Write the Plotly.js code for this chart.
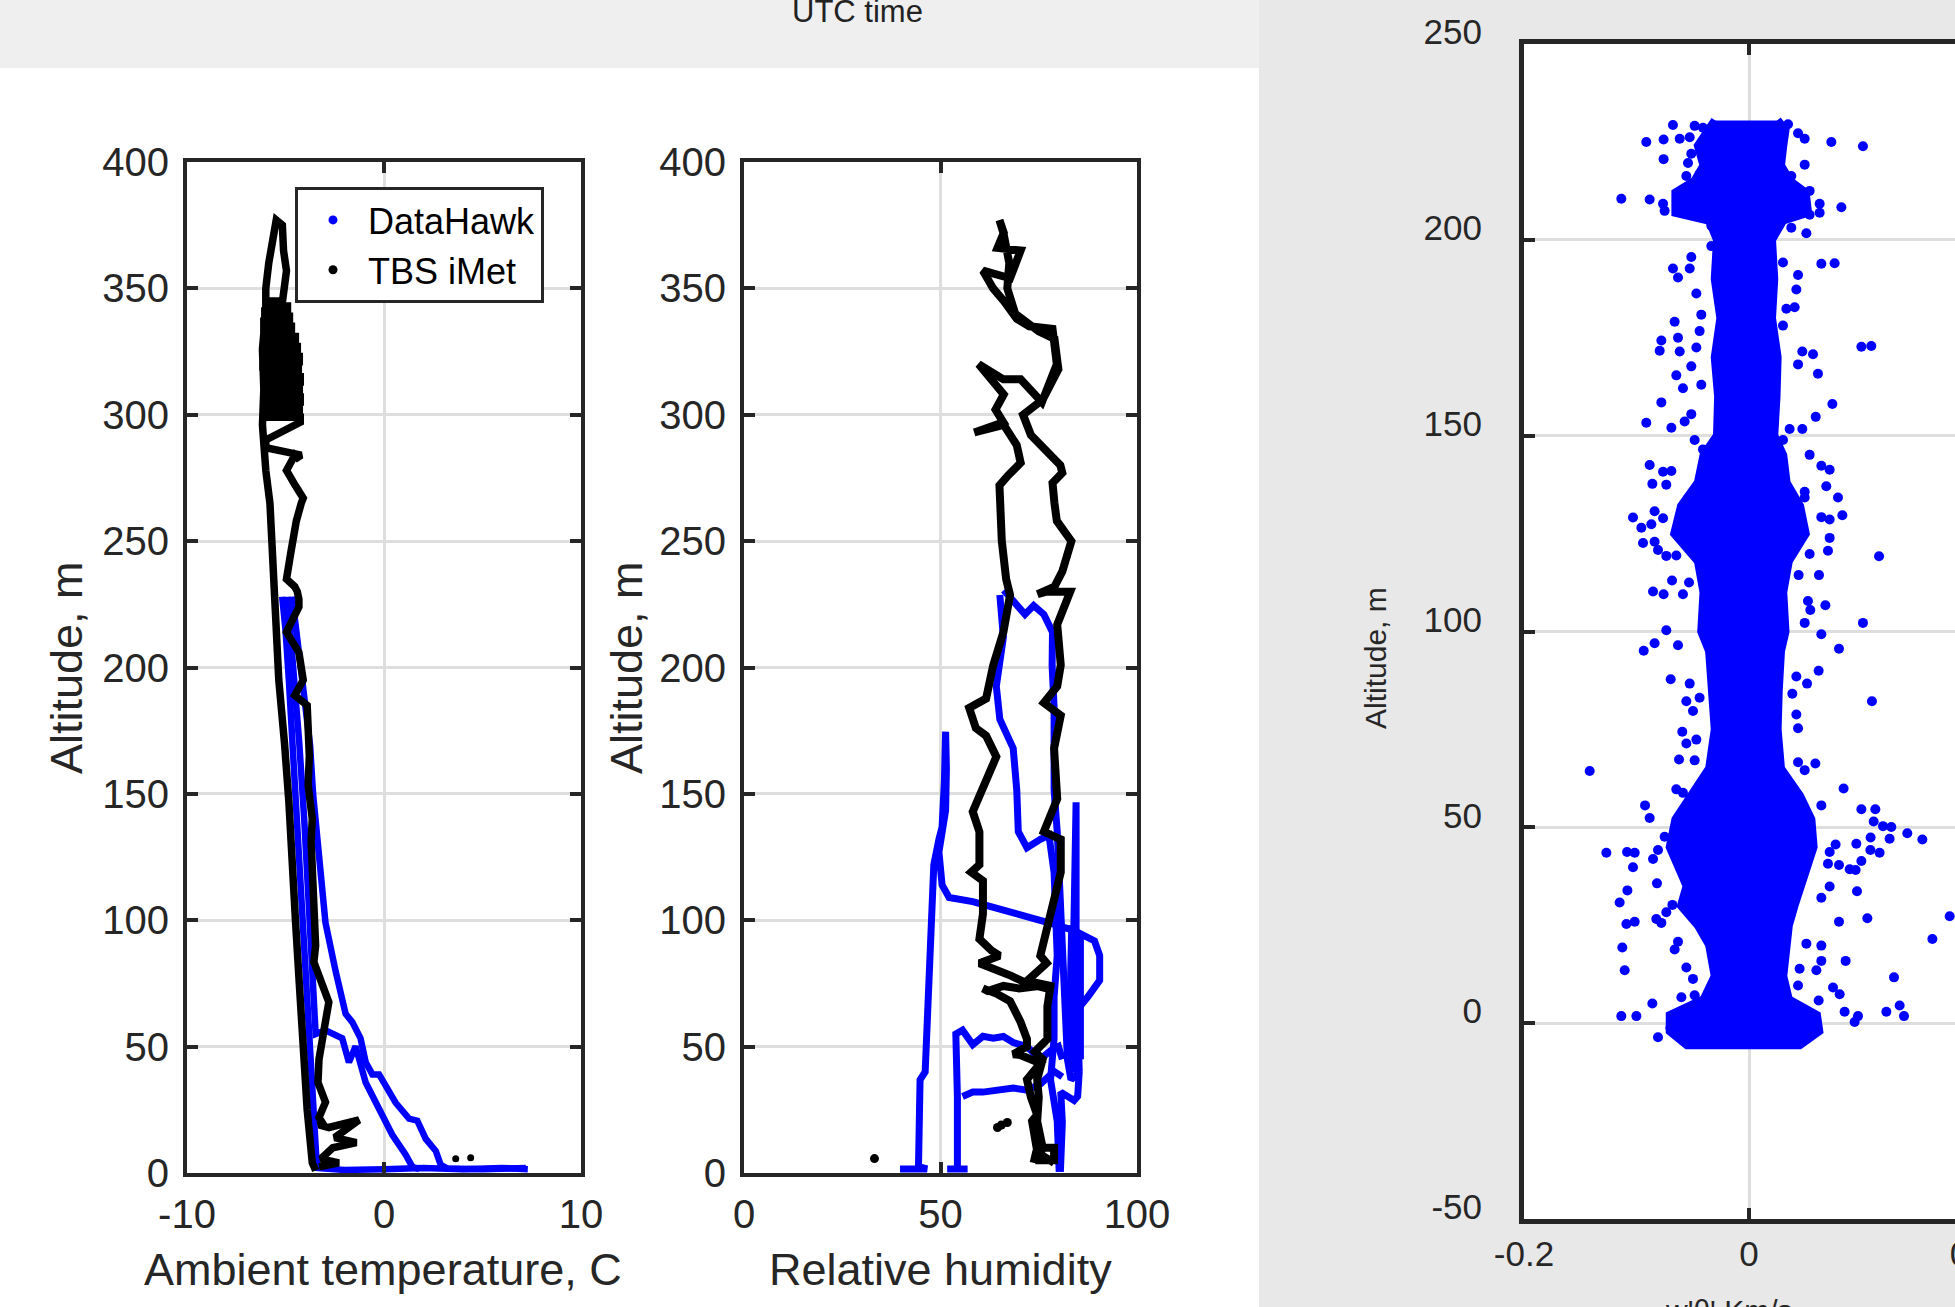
<!DOCTYPE html>
<html><head><meta charset="utf-8">
<script src="https://cdn.plot.ly/plotly-3.0.1.min.js"></script>
<style>html,body{margin:0;padding:0;overflow:hidden;background:#fff;}#chart{width:2000px;height:1307px;}</style>
</head><body><div id="chart"></div>
<script>
// ---------------- DATA ----------------
// Panel 1: ambient temperature profiles (null separates passes)
const tempHawkAlt = [228,215,195,170,147,120,99,75,52,35,20,8,2,1.2,1.5,2,1.5,2,1.5, null,
  228,210,195,169,150,131,115,99,80,63,59.7,53.3,43.8,39,39,33,27.8,21.5,20.7,13.5,8.7,3.2,1.8,1.5,2, null,
  228,200,170,140,110,80,60,55,56.5,53.3,43.8,50.1,35.8,24.7,15.1,7.2,2.4,1.5];
const tempHawkT = [-5.17,-5.0,-4.83,-4.65,-4.49,-4.3,-4.15,-4.0,-3.81,-3.7,-3.56,-3.45,-3.39,-2.0,0.0,2.0,4.0,6.0,7.3, null,
  -4.66,-4.4,-4.15,-3.75,-3.6,-3.39,-3.2,-2.97,-2.46,-1.95,-1.61,-1.19,-0.93,-0.59,-0.25,0.2,0.59,1.27,1.69,2.12,2.63,2.88,3.2,5.0,7.2, null,
  -4.9,-4.6,-4.3,-4.05,-3.85,-3.65,-3.5,-3.47,-2.97,-2.12,-1.78,-1.44,-0.93,-0.25,0.42,1.1,1.44,1.8];
const tempImetAlt = [1,4,25,51.7,75,99.4,125,147,170,195,220,235,250,265,278,296,310,326,341,350,360,367,372,377,
  375,365,357,
  345,345,343,343,341,341,339,339,337,337,335,335,333,333,331,331,329,329,327,327,325,325,323,323,321,321,319,319,317,317,315,315,313,313,311,311,309,309,307,307,305,305,303,303,301,301,299,299,297,
  290,287,284,283,284,278,272,267,265,258,245,235,232,230,227,224,214,209,206,195,
  189,185,176,165,153.5,140,131.3,115.4,99.4,90,83.5,78,75.6,73,67.6,60,51.7,45,35.8,28,
  22,20,19,18,21,14,12,10,5.6,4,2.4];
const tempImetT = [-3.47,-3.64,-3.9,-4.15,-4.3,-4.49,-4.65,-4.83,-5.05,-5.34,-5.5,-5.58,-5.7,-5.79,-6.0,-6.17,-6.1,-6.17,-6.0,-6.0,-5.85,-5.68,-5.55,-5.47,
  -5.16,-5.1,-4.95,
  -5.15,-6.0,-6.0,-4.9,-4.9,-6.05,-6.05,-4.8,-4.8,-6.1,-6.1,-4.7,-4.7,-6.1,-6.1,-4.5,-4.5,-6.1,-6.1,-4.4,-4.4,-6.15,-6.15,-4.3,-4.3,-6.15,-6.15,-4.35,-4.35,-6.1,-6.1,-4.25,-4.25,-6.1,-6.1,-4.3,-4.3,-6.1,-6.1,-4.25,-4.25,-6.05,-6.05,-4.3,-4.3,-6.0,-6.0,-4.25,-4.25,-6.0,-6.0,-4.2,
  -4.4,-4.53,-4.95,-4.5,-4.1,-4.2,-4.45,-4.74,-4.95,-4.53,-4.4,-4.32,-4.32,-4.95,-4.6,-4.32,-4.1,-4.53,-3.9,-3.81,
  -3.79,-3.85,-3.64,-3.7,-3.64,-3.55,-3.47,-3.56,-3.3,-3.25,-3.14,-2.8,-2.97,-3.2,-3.3,-3.35,-2.97,-3.3,-3.14,-3.3,
  -2.8,-1.27,-2.5,-1.4,-2.6,-3.2,-2.29,-3.3,-2.12,-3.3,-3.47];
const tempImetDotAlt = [5.6, 6.0];
const tempImetDotT = [3.64, 4.4];

// Panel 2: relative humidity profiles
const rhHawkAlt = [1.6,1.6,2.5,36.9,40,69.7,86,105.7,122,132,136.9,155,174.6,160,143.4,136,127,114,109,107.4,104,101.6,99.2,95.9,91.8,86,76.2,69.7,63.1,59.8, null,
  228.7,212,192.6,179.5,168,151.6,135,128.7,132,133.6,118.9,102.5,86,69.7,53.3,36.9,20.5,0.5, null,
  230.6,224.5,221,224.5,221,214,200.8,184.4,151.6,135,102.5,69.7,45,36.9,40,30.3,28.7,32,20,0.5, null,
  40,86,146.7,120,86,60,40, null,
  1.6,1.6,1.6,30.3,55,56.5,50.8,54.1,53.3,54,51.6,50,45,48.4,50,45, null,
  30.3,32,32,32.8,33.6,32.8,35.2,40.2,38, null,
  98,70,40, null,
  95,70,45];
const rhHawkRH = [39.7,46.6,44.4,44.8,46.1,47,47.4,47.8,48.3,49.6,50.4,51,51.3,51.5,51.3,50.5,49.6,50.4,52.2,58.2,66.8,72,77.2,84,89.2,90.5,90.5,87.5,84,83.2, null,
  65.1,66,64.2,65.1,68.5,69.4,69.8,72,75.4,77.6,78.9,79.3,79.7,78.9,78.9,78,79.7,80.2, null,
  66.1,69.4,71.5,73.7,76.3,78.5,78.4,78.9,78.9,79.7,80.6,81.5,82.3,83.2,85.3,84.9,84,80.6,81,80.5, null,
  85.3,84.5,84.5,84.3,84,83.5,84.5, null,
  51.7,56.9,54.3,54.3,53.9,55.6,58.2,60.8,63.4,66,68.5,72,75.4,78,80,81, null,
  55.6,58.2,60.8,65.1,68.5,72,75.4,78.9,81, null,
  83.4,83.0,83.4, null,
  85.6,85.8,85.6];
const rhImetAlt = [4,10,10,5,5,20.5,23,30,37,43.4,46.7,47,50,53,60,65,68,71,73,72,74,73,74,73,75,78,80,83,86,88,92.6,102.5,115.6,119,122,135,143,151.6,164.7,173,176,184,187.7,200.8,214,228.7,235,250,272,276,281,288,296,293,297,302,308,320,314,314,305,320,334,335,338,345,350,357,354,365,366,372,377,
  372,360,350,340,333,330,318,306,300,292,287,285,280,277,273,265,258,250,242,238,232,229,230,230,230,217,201,192.6,186,181,168,148,135,132,119,102.5,86,83,76,74,66,53,48,45,37,30,20.5,10,7.4,4];
const rhImetRH = [73.7,74.6,78.9,78.9,75,73.3,74.6,73,72,75.4,70.3,68.5,72,72,70.3,69,67.7,64.2,60.8,62,66,70,75,77,72,68,65,59.9,65,63,59.9,60.8,60.8,57.8,59.9,59.9,58.2,60.8,64.2,61.6,59,57.3,61.6,63.4,66,67.7,66.7,65.6,65,67.2,70.4,69.4,66.1,58.6,66,64,66.1,59.7,66,70.4,75.8,79.6,78.5,72.6,69.4,66.1,63.4,60.8,67.7,70.4,64.5,66.1,65,
  66,67.5,67,69,75,79,80,76,71,73,76,77,80.5,81,78.5,79,79.6,83.3,82,81,79,74.7,77,80.6,83,79.7,80.6,79.7,76.3,80.6,78.9,79.7,76.3,80.6,80.6,78,75.4,77,72,78,77.2,77.2,74,76,74.6,75,74.6,76,75.4,78.9];
const rhImetDotAlt = [5.7, 18, 19, 20];
const rhImetDotRH = [33.2, 64.5, 65.5, 67];

// Panel 3: w' theta' flux vs altitude
const coreAlt   = [230.5,228,224,219,215,212,207,205,200,190,180,170,160,150,145,138,132,125,118,110,100,95,85,75,65,58,52,45,40,35,30,25,20,12,6,2,-2,-5.5];
const coreLeft  = [-0.030,-0.036,-0.045,-0.040,-0.048,-0.065,-0.065,-0.035,-0.028,-0.030,-0.025,-0.030,-0.027,-0.028,-0.040,-0.045,-0.060,-0.066,-0.045,-0.040,-0.042,-0.035,-0.032,-0.030,-0.035,-0.050,-0.065,-0.070,-0.062,-0.055,-0.060,-0.045,-0.035,-0.030,-0.040,-0.070,-0.070,-0.055];
const coreRight = [0.025,0.032,0.030,0.028,0.036,0.050,0.052,0.030,0.020,0.022,0.020,0.025,0.024,0.022,0.030,0.033,0.045,0.050,0.035,0.030,0.032,0.028,0.026,0.025,0.028,0.045,0.055,0.057,0.050,0.045,0.040,0.035,0.033,0.030,0.035,0.060,0.062,0.045];
const fluxX = [-0.0676,-0.0483,-0.0409,-0.0913,-0.0759,-0.0616,-0.0527,0.0347,0.0436,0.0495,0.0732,0.1013,-0.0759,-0.0513,-0.0542,-0.0557,-0.0439,0.0495,0.0376,-0.1135,-0.0883,-0.0764,-0.0750,0.0539,0.0628,0.0821,0.0539,0.0628,-0.0335,0.0376,0.0510,0.0199,-0.0335,0.0154,-0.0513,-0.0676,-0.0631,-0.0527,0.0302,0.0643,0.0761,0.0436,0.0421,-0.0468,-0.0424,-0.0661,0.0332,0.0406,0.0302,-0.0439,-0.0779,-0.0794,-0.0631,-0.0616,-0.0513,-0.0468,0.0999,0.1087,0.0474,0.0569,0.0436,0.0613,-0.0646,-0.0587,-0.0424,-0.0779,0.0741,-0.0913,-0.0690,-0.0572,-0.0513,0.0593,0.0474,0.0361,0.0302,-0.0483,-0.0409,-0.0883,-0.0859,-0.0735,-0.0764,-0.0542,-0.0690,0.0539,0.0643,0.0717,0.0687,0.0791,0.0830,0.0495,0.0495,-0.1031,-0.0957,-0.0839,-0.0764,-0.0868,-0.0942,-0.0839,-0.0809,-0.0735,-0.0646,0.0643,0.0717,0.0717,0.0702,0.0539,0.1156,0.0622,0.0441,-0.0684,-0.0853,-0.0759,-0.0533,-0.0587,0.0524,0.0679,0.0545,0.1013,-0.0735,-0.0936,-0.0839,-0.0631,0.0800,0.0643,0.0495,
  -0.0696,-0.0527,-0.0439,-0.0557,-0.0498,0.1093,0.0516,0.0619,0.0421,0.0385,0.0421,0.0436,-0.0593,-0.0557,-0.0468,-0.1416,-0.0622,-0.0483,0.0436,0.0590,0.0495,0.0841,-0.0646,-0.0587,-0.0924,-0.0883,0.0643,0.0999,0.1123,0.1108,0.1191,0.1265,0.1407,0.1541,0.1250,0.1081,0.0954,0.1161,0.1079,0.0999,0.0895,0.0948,0.0960,0.0800,0.0770,0.0717,0.0702,0.0717,-0.1268,-0.1084,-0.1016,-0.1031,-0.0853,-0.0750,-0.0809,-0.0818,-0.1081,-0.1150,-0.1090,-0.1016,-0.0824,-0.0779,-0.0735,-0.0681,-0.1126,-0.1105,-0.0661,-0.0631,-0.0557,-0.0498,-0.0483,-0.0601,-0.0859,-0.1135,-0.1001,-0.0809,0.1784,0.1630,0.1052,0.0800,0.0643,0.0859,0.0643,0.0510,0.0643,0.0599,0.0450,0.1289,0.0747,0.0806,0.0619,0.0436,0.1221,0.1339,0.1378,0.0969,0.0939,0.0850,0.0593,0.0504,0.0391,-0.0699];
const fluxAlt = [229.3,229.1,228.6,225.0,225.6,225.8,226.2,229.5,227.2,225.8,225.0,223.9,220.6,222.0,219.6,216.3,216.8,219.2,216.3,210.5,210.3,209.2,207.4,212.5,209.2,208.3,206.4,206.9,203.6,203.1,201.7,202.2,198.4,197.9,195.6,192.7,190.4,192.7,194.2,193.9,194.0,191.0,187.3,186.3,180.9,179.1,182.4,182.8,178.1,176.7,174.3,171.7,175.0,171.5,167.7,172.5,172.7,172.9,171.5,170.8,168.2,165.8,165.4,162.1,163.0,158.5,158.1,153.3,152.0,153.6,155.5,154.8,151.7,151.7,148.9,148.9,146.5,142.5,137.7,137.5,140.8,134.0,141.0,145.1,142.3,141.3,137.1,134.2,129.7,135.7,134.2,129.1,126.5,130.7,128.9,127.4,122.6,122.9,120.8,119.3,119.4,129.2,128.6,123.9,120.6,119.8,119.2,114.4,114.4,113.0,110.2,109.5,112.5,109.5,107.8,106.7,105.5,102.2,100.3,95.1,97.0,96.5,95.6,99.3,102.2,
  87.8,86.7,83.1,82.2,79.7,82.2,86.7,90.0,88.5,84.1,78.8,75.3,74.4,71.4,72.4,64.4,67.3,67.1,66.6,66.3,64.6,59.9,59.7,58.8,55.6,52.4,55.6,54.6,54.6,51.5,50.3,50.1,48.5,46.9,47.1,47.4,45.8,43.5,44.2,41.4,39.3,39.1,33.7,40.4,45.6,43.7,40.7,34.9,43.5,43.7,43.5,39.8,41.9,47.6,44.2,35.7,33.9,30.8,25.3,25.9,26.6,25.6,28.3,30.2,19.3,13.5,18.8,20.8,14.2,11.3,7.1,6.6,5.0,1.8,1.8,-3.6,27.3,21.5,26.8,25.9,32.0,15.9,19.8,20.3,15.9,13.5,13.9,11.7,9.1,7.4,5.8,9.6,2.9,4.5,1.8,1.8,0.3,2.9,-0.7,-4.1,-4.1,-1.2];

// Tick values / labels
const xTicks1 = [-10, 0, 10];
const xTickText1 = ['-10', '0', '10'];
const xTicks2 = [0, 50, 100];
const xTicks3 = [-0.2, 0, 0.2];
const xTickText3 = ['-0.2', '0', '0.2'];
const yTicks3 = [-50, 0, 50, 100, 150, 200, 250];
const yTickText3 = ['-50', '0', '50', '100', '150', '200', '250'];

// ---------------- LAYOUT ----------------
const W = 2000, H = 1307;
const px = x => x / W;
const py = y => 1 - y / H;
const FONT = 'Liberation Sans, Arial, Helvetica, sans-serif';
const INK = '#262626';
const BLUE = '#0000ff';
const BLACK = '#000000';

function ax(extra) {
  return Object.assign({
    showgrid: true, gridcolor: '#dedede', gridwidth: 3,
    showline: true, mirror: 'ticks', linecolor: INK, linewidth: 4,
    ticks: 'inside', ticklen: 11, tickwidth: 4, tickcolor: INK,
    zeroline: false, fixedrange: true,
    tickfont: {family: FONT, size: 40, color: INK}
  }, extra);
}

const corePolyX = coreLeft.concat(coreRight.slice().reverse());
const corePolyY = coreAlt.concat(coreAlt.slice().reverse());

const traces = [
  {x: tempHawkT, y: tempHawkAlt, xaxis: 'x', yaxis: 'y', mode: 'lines', connectgaps: false,
   line: {color: BLUE, width: 6.5}, showlegend: false, hoverinfo: 'skip'},
  {x: tempImetT, y: tempImetAlt, xaxis: 'x', yaxis: 'y', mode: 'lines',
   line: {color: BLACK, width: 7.5}, showlegend: false, hoverinfo: 'skip'},
  {x: tempImetDotT, y: tempImetDotAlt, xaxis: 'x', yaxis: 'y', mode: 'markers',
   marker: {color: BLACK, size: 7}, showlegend: false, hoverinfo: 'skip'},
  {x: rhHawkRH, y: rhHawkAlt, xaxis: 'x2', yaxis: 'y2', mode: 'lines', connectgaps: false,
   line: {color: BLUE, width: 7}, showlegend: false, hoverinfo: 'skip'},
  {x: rhImetRH, y: rhImetAlt, xaxis: 'x2', yaxis: 'y2', mode: 'lines',
   line: {color: BLACK, width: 8}, showlegend: false, hoverinfo: 'skip'},
  {x: rhImetDotRH, y: rhImetDotAlt, xaxis: 'x2', yaxis: 'y2', mode: 'markers',
   marker: {color: BLACK, size: 9}, showlegend: false, hoverinfo: 'skip'},
  {x: corePolyX, y: corePolyY, xaxis: 'x3', yaxis: 'y3', mode: 'lines', fill: 'toself',
   fillcolor: BLUE, line: {color: BLUE, width: 9}, showlegend: false, hoverinfo: 'skip'},
  {x: fluxX, y: fluxAlt, xaxis: 'x3', yaxis: 'y3', mode: 'markers',
   marker: {color: BLUE, size: 10}, showlegend: false, hoverinfo: 'skip'},
  // legend entries
  {x: [null], y: [null], xaxis: 'x', yaxis: 'y', mode: 'markers', name: 'DataHawk',
   marker: {color: BLUE, size: 9}},
  {x: [null], y: [null], xaxis: 'x', yaxis: 'y', mode: 'markers', name: 'TBS iMet',
   marker: {color: BLACK, size: 9}}
];

const yTop = py(162), yBot = py(1173);

const layout = {
  width: W, height: H,
  margin: {l: 0, r: 0, t: 0, b: 0},
  paper_bgcolor: '#ffffff', plot_bgcolor: '#ffffff',
  font: {family: FONT, color: INK},
  showlegend: true,
  legend: {x: px(295), y: py(187), xanchor: 'left', yanchor: 'top',
    bgcolor: '#ffffff', bordercolor: INK, borderwidth: 3, itemwidth: 60,
    font: {family: FONT, size: 36, color: '#000'}, tracegroupgap: 0},
  xaxis: ax({domain: [px(187), px(581)], range: [-10, 10], tickvals: xTicks1, ticktext: xTickText1, anchor: 'y', ticklabelstandoff: 3}),
  yaxis: ax({domain: [yBot, yTop], range: [0, 400], dtick: 50, tick0: 0, anchor: 'x', ticklabelstandoff: 6}),
  xaxis2: ax({domain: [px(744), px(1137)], range: [0, 100], tickvals: xTicks2, anchor: 'y2', ticklabelstandoff: 3}),
  yaxis2: ax({domain: [yBot, yTop], range: [0, 400], dtick: 50, tick0: 0, anchor: 'x2', ticklabelstandoff: 6}),
  xaxis3: ax({domain: [px(1524), px(1974)], range: [-0.2, 0.2], tickvals: xTicks3, ticktext: xTickText3,
    anchor: 'y3', linewidth: 5, tickfont: {family: FONT, size: 35, color: INK}, ticklabelstandoff: 0}),
  yaxis3: ax({domain: [py(1219), py(44)], range: [-50, 250], tickvals: yTicks3, ticktext: yTickText3, anchor: 'x3', linewidth: 5,
    tickfont: {family: FONT, size: 35, color: INK}, ticklabelstandoff: 30, ticklabelshift: -12}),
  shapes: [
    {type: 'rect', xref: 'paper', yref: 'paper', x0: 0, x1: px(1259), y0: py(68), y1: 1,
     fillcolor: '#efefef', line: {width: 0}, layer: 'below'},
    {type: 'rect', xref: 'paper', yref: 'paper', x0: px(1259), x1: 1, y0: 0, y1: 1,
     fillcolor: '#e8e8e8', line: {width: 0}, layer: 'below'},
    {type: 'rect', xref: 'x3 domain', yref: 'y3 domain', x0: 0, x1: 1, y0: 0, y1: 1,
     fillcolor: '#ffffff', line: {width: 0}, layer: 'below'}
  ],
  annotations: [
    {text: 'UTC time', xref: 'paper', yref: 'paper', x: px(857), y: py(31), xanchor: 'center', yanchor: 'bottom',
     showarrow: false, font: {family: FONT, size: 31, color: '#222'}},
    {text: 'Ambient temperature, C', xref: 'paper', yref: 'paper', x: px(383), y: py(1269), xanchor: 'center', yanchor: 'middle',
     showarrow: false, font: {family: FONT, size: 45, color: INK}},
    {text: 'Relative humidity', xref: 'paper', yref: 'paper', x: px(940), y: py(1269), xanchor: 'center', yanchor: 'middle',
     showarrow: false, font: {family: FONT, size: 45, color: INK}},
    {text: 'Altitude, m', xref: 'paper', yref: 'paper', x: px(66), y: py(668), xanchor: 'center', yanchor: 'middle',
     textangle: -90, showarrow: false, font: {family: FONT, size: 45, color: INK}},
    {text: 'Altitude, m', xref: 'paper', yref: 'paper', x: px(626), y: py(668), xanchor: 'center', yanchor: 'middle',
     textangle: -90, showarrow: false, font: {family: FONT, size: 45, color: INK}},
    {text: 'Altitude, m', xref: 'paper', yref: 'paper', x: px(1375), y: py(658), xanchor: 'center', yanchor: 'middle',
     textangle: -90, showarrow: false, font: {family: FONT, size: 30, color: INK}},
    {text: "w'θ' Km/s", xref: 'paper', yref: 'paper', x: px(1728), y: py(1292), xanchor: 'center', yanchor: 'top',
     showarrow: false, font: {family: FONT, size: 30, color: INK}}
  ]
};

Plotly.newPlot('chart', traces, layout, {staticPlot: true, displayModeBar: false});
</script></body></html>
